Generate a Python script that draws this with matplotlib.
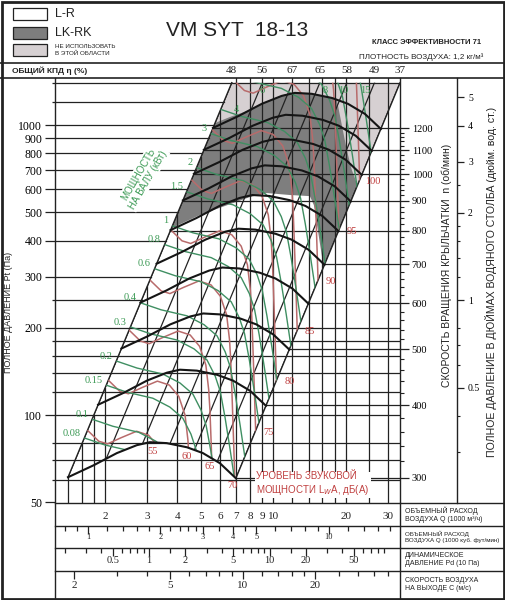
import numpy as np
import matplotlib
matplotlib.use("Agg")
import matplotlib.pyplot as plt
from matplotlib.patches import Polygon, Rectangle
from matplotlib.path import Path
from matplotlib.ticker import FixedLocator, NullFormatter, NullLocator, FuncFormatter

W, H = 505, 600
SERIF = "Liberation Serif"
SANS = "Liberation Sans"
INK = "#222222"
GREEN_LINE = "#3f8f62"
GREEN_TEXT = "#3c9a55"
RED_LINE = "#b86b6b"
RED_TEXT = "#c04040"
DARK = "#7e7e7e"
LIGHT = "#d6d0d2"

# ---- values (Q in 1000 m3/h, P in Pa) ----
Q_MIN, Q_MAX = 1.24, 33.57
P_MIN, P_MAX = 49.8, 1453.0

# 300 rpm fan curve, other speeds follow the fan laws
BASE_RPM = 300
base_q = [1.404, 1.795, 2.24, 2.71, 3.07, 3.61, 4.38, 5.10, 6.00, 6.99]
base_p = [61.1, 67.2, 74.0, 78.8, 80.7, 80.1, 77.5, 74.0, 68.3, 60.6]
rpm_curves = [300, 400, 500, 600, 700, 800, 900, 1000, 1100, 1200]
rpm_minor = list(range(300, 1201, 20))

# edges of the working area
left_edge = [(1.404, 61.1), (6.72, 1400.0)]
right_edge = [(6.99, 60.6), (33.6, 1400.0)]

# efficiency lines: Q where they meet the top, and their labels
eff_q_top = [6.72, 9.0, 12.0, 15.6, 20.2, 26.3, 33.6]
eff_labels = ["48", "56", "67", "65", "58", "49", "37"]

# shaft power lines, shape read for 0.15 kW
power_base_kw = 0.15
power_base_q = [2.023, 2.467, 3.16, 3.72, 4.21, 4.55, 4.78, 5.0, 5.25, 5.5, 5.8, 6.1]
power_base_p = [126.9, 120.0, 114.4, 106.6, 97.6, 86.0, 76.0, 62.0, 48.0, 37.0, 28.0, 21.0]
power_kw = [0.08, 0.1, 0.15, 0.2, 0.3, 0.4, 0.6, 0.8, 1, 1.5, 2, 3, 4, 6, 8, 10, 15]

# sound power lines, shape read for 60 dB(A)
sound_base_db = 60
sound_step_ratio = 1.22  # speed ratio per 5 dB
sound_base_q = [2.064, 2.30, 2.50, 2.85, 3.30, 3.70, 4.05, 4.30, 4.42, 4.47, 4.52, 4.57, 4.62, 4.67, 4.72]
sound_base_p = [132.0, 121.0, 118.5, 124.5, 131.0, 127.0, 116.0, 100.0, 82.0, 70.0, 55.0, 42.0, 32.0, 24.0, 18.0]
sound_db = [55, 60, 65, 70, 75, 80, 85, 90, 95, 100]

# shaded regions
dark_q = [3.78, 5.72, 6.60, 8.00, 9.67, 10.96, 12.28, 14.44, 17.52, 18.35, 19.25, 20.19,
          21.18, 22.36, 16.17, 15.30, 14.73, 14.18, 11.71, 9.40, 8.00, 6.79, 4.96]
dark_p = [441, 1016, 1066, 1127, 1220, 1270, 1291, 1282, 1240, 1225, 1000, 820,
          700, 621, 324, 435, 530, 569, 574, 583, 565, 538, 490]
light_q = [5.72, 6.72, 33.6, 22.36]
light_p = [1016, 1400, 1400, 621]

# grid
grid_q = [1.4, 1.6, 1.8, 2, 3, 4, 5, 6, 7, 8, 9, 10, 12, 14, 16, 18, 20, 25, 30]
grid_p = [60, 70, 80, 100, 120, 140, 160, 180, 200, 250, 300, 400, 500, 600, 700, 800,
          900, 1000, 1200, 1400]
p_labels = [50, 100, 200, 300, 400, 500, 600, 700, 800, 900, 1000]

# secondary scales
PA_PER_INCH = 249.1
inch_major = [0.5, 1, 2, 3, 4, 5]
inch_minor = [0.3, 0.4, 0.6, 0.7, 0.8, 1.2, 1.4, 1.6, 1.8, 2.5]
M3H_PER_CFM = 1.699
OUTLET_AREA = 0.2075  # m2
q_labels = [2, 3, 4, 5, 6, 7, 8, 9, 10, 20, 30]
cfm_major = [1, 2, 3, 4, 5, 10]
cfm_minor = [0.8, 0.9, 1.2, 1.4, 1.6, 1.8, 2.2, 2.4, 2.6, 2.8, 3.5, 4.5, 6, 7, 8, 9, 12, 14, 16, 18]
pd_major = [0.5, 1, 2, 5, 10, 20, 50]
pd_minor = [0.2, 0.3, 0.4, 0.6, 0.7, 0.8, 0.9, 1.5, 3, 4, 6, 7, 8, 9, 15, 30, 40, 60, 70, 80, 90]
c_major = [2, 5, 10, 20]
c_minor = [3, 4, 6, 7, 8, 9, 12, 14, 16, 18, 25, 30, 35, 40]

K_LEFT = left_edge[1][1] / left_edge[1][0] ** 2
K_RIGHT = right_edge[1][1] / right_edge[1][0] ** 2
P_TOP = left_edge[1][1]
level_300 = (base_p[0] + base_p[-1]) / 2


def q_to_c(q):
    return np.asarray(q) * 1000 / 3600 / OUTLET_AREA


def q_to_pd(q):
    return 0.6 * q_to_c(q) ** 2 / 10


fig = plt.figure(figsize=(W / 100, H / 100), dpi=100)
ax = fig.add_axes([55 / W, 1 - 503 / H, 345 / W, 425 / H])
ax.set_xscale("log")
ax.set_yscale("log")
ax.set_xlim(Q_MIN, Q_MAX)
ax.set_ylim(P_MIN, P_MAX)
for sp in ax.spines.values():
    sp.set_visible(False)
ax.xaxis.set_major_locator(NullLocator())
ax.xaxis.set_minor_locator(NullLocator())
ax.yaxis.set_major_locator(FixedLocator(p_labels))
ax.yaxis.set_minor_locator(FixedLocator([p for p in grid_p if p not in p_labels]))
ax.yaxis.set_major_formatter(FuncFormatter(lambda v, _: f"{v:g}"))
ax.yaxis.set_minor_formatter(NullFormatter())
ax.tick_params(axis="y", which="major", length=7.2, width=0.9, color=INK, pad=2,
               labelsize=8.5, labelfontfamily=SERIF)
ax.tick_params(axis="y", which="minor", length=2.2, width=0.9, color=INK)

area_q = [left_edge[0][0], left_edge[1][0], right_edge[1][0]] + base_q[::-1]
area_p = [left_edge[0][1], left_edge[1][1], right_edge[1][1]] + base_p[::-1]
area = Polygon(list(zip(area_q, area_p)), closed=True, transform=ax.transData)
area_log = Path(np.log10(np.column_stack([area_q, area_p])))


def clipped(artist):
    artist.set_clip_path(area)
    return artist


# shaded regions
clipped(ax.add_patch(Polygon(list(zip(light_q, light_p)), closed=True, fc=LIGHT, ec="none", zorder=1)))
clipped(ax.add_patch(Polygon(list(zip(dark_q, dark_p)), closed=True, fc=DARK, ec="none", zorder=1.1)))

# grid lines
for q in grid_q:
    top = min(P_MAX, K_LEFT * q ** 2)
    ax.plot([q, q], [P_MIN, top], color=INK, lw=0.9, zorder=2)
for p in grid_p:
    end = Q_MAX if (p <= 200 or p >= P_TOP) else np.sqrt(p / K_LEFT)
    ax.plot([Q_MIN, end], [p, p], color=INK, lw=0.9, zorder=2)
for n in rpm_curves:
    p = level_300 * (n / BASE_RPM) ** 2
    start = np.sqrt(p / (K_LEFT if n >= 800 else K_RIGHT))
    ax.plot([start, Q_MAX], [p, p], color=INK, lw=0.9, zorder=2)

# efficiency (system) lines
for qt in eff_q_top:
    k = P_TOP / qt ** 2
    qq = np.array([np.sqrt(40 / k), qt * 1.05])
    clipped(ax.plot(qq, k * qq ** 2, color=INK, lw=0.9, zorder=3)[0])
for edge in (left_edge, right_edge):
    ax.plot([e[0] for e in edge], [e[1] for e in edge], color=INK, lw=1.0, zorder=3)
for qt, lab in zip(eff_q_top, eff_labels):
    ax.text(qt, 1.0165, lab, transform=ax.get_xaxis_transform(), ha="center", va="center",
            fontsize=8, family=SERIF, color=INK)


def dense(q, p):
    lq, lp = np.log10(q), np.log10(p)
    t = np.linspace(0, len(q) - 1, 600)
    idx = np.arange(len(q))
    pts = np.column_stack([np.interp(t, idx, lq), np.interp(t, idx, lp)])
    ins = area_log.contains_points(pts)
    return pts, ins


# sound power lines
for db in sound_db:
    s = sound_step_ratio ** ((db - sound_base_db) / 5)
    q = np.array(sound_base_q) * s
    p = np.array(sound_base_p) * s ** 2
    clipped(ax.plot(q, p, color=RED_LINE, lw=1.1, zorder=3.2)[0])
    pts, ins = dense(q, p)
    i = np.nonzero(ins)[0][-1]
    qe, pe = 10 ** pts[i]
    on_right = abs(np.log10(pe / (K_RIGHT * qe ** 2))) < 0.03 and pe > 75
    off = (13, -2) if on_right else (-2, -9)
    ax.annotate(str(db), (qe, pe), xytext=off, textcoords="offset pixels", ha="center",
                va="center", fontsize=7.5, family=SERIF, color=RED_TEXT, zorder=5)

# shaft power lines
for kw in power_kw:
    s = (kw / power_base_kw) ** (1 / 3)
    q = np.array(power_base_q) * s
    p = np.array(power_base_p) * s ** 2
    clipped(ax.plot(q, p, color=GREEN_LINE, lw=1.0, zorder=3.4)[0])
    pts, ins = dense(q, p)
    i = np.nonzero(ins)[0][0]
    qs, ps = 10 ** pts[i]
    lab = f"{kw:g}"
    if ps > P_TOP * 0.98:
        ax.annotate(lab, (qs, ps), xytext=(5, -8), textcoords="offset pixels", ha="center",
                    va="center", fontsize=7.5, family=SERIF, color=GREEN_TEXT, zorder=5)
    elif ps > 1000:
        ax.annotate(lab, (qs, ps), xytext=(15, 0), textcoords="offset pixels", ha="center",
                    va="center", fontsize=7.5, family=SERIF, color=GREEN_TEXT, zorder=5)
    else:
        ax.annotate(lab, (qs, ps), xytext=(-4, 5), textcoords="offset pixels", ha="right",
                    va="center", fontsize=7.5, family=SERIF, color=GREEN_TEXT, zorder=5)

# fan curves
for n in rpm_curves:
    r = n / BASE_RPM
    ax.plot(np.array(base_q) * r, np.array(base_p) * r ** 2, color="#151515", lw=1.5, zorder=3.6)

# rpm scale
sec = ax.secondary_yaxis(
    "right",
    functions=(lambda p: BASE_RPM * np.sqrt(np.maximum(np.asarray(p, float), 1e-9) / level_300),
               lambda n: level_300 * (np.asarray(n, float) / BASE_RPM) ** 2))
sec.yaxis.set_major_locator(FixedLocator(rpm_curves))
sec.yaxis.set_minor_locator(FixedLocator([n for n in rpm_minor if n not in rpm_curves]))
sec.yaxis.set_major_formatter(FuncFormatter(lambda v, _: f"{v:g}"))
sec.yaxis.set_minor_formatter(NullFormatter())
sec.tick_params(which="major", length=6.5, width=0.9, color=INK, pad=2, labelsize=7.5,
                labelfontfamily=SERIF)
sec.tick_params(which="minor", length=3, width=0.8, color=INK)
for sp in sec.spines.values():
    sp.set_linewidth(1.0)
    sp.set_color(INK)

# inch water gauge scale
sec2 = ax.secondary_yaxis(
    (457 - 55) / 345,
    functions=(lambda p: np.asarray(p, float) / PA_PER_INCH,
               lambda i: np.asarray(i, float) * PA_PER_INCH))
sec2.yaxis.set_major_locator(FixedLocator(inch_major))
sec2.yaxis.set_minor_locator(FixedLocator(inch_minor))
sec2.yaxis.set_major_formatter(FuncFormatter(lambda v, _: f"{v:g}"))
sec2.yaxis.set_minor_formatter(NullFormatter())
sec2.tick_params(which="major", length=5, width=0.9, color=INK, pad=3, labelsize=7,
                 labelfontfamily=SERIF)
sec2.tick_params(which="minor", length=2.5, width=0.8, color=INK)
for sp in sec2.spines.values():
    sp.set_linewidth(1.0)
    sp.set_color(INK)


# bottom scales
def strip(y0, y1, lo, hi, major, minor):
    s = fig.add_axes([55 / W, 1 - y1 / H, 345 / W, (y1 - y0) / H])
    s.set_xscale("log")
    s.set_xlim(lo, hi)
    s.set_ylim(0, 1)
    s.set_frame_on(False)
    s.yaxis.set_visible(False)
    s.xaxis.set_major_locator(FixedLocator(major))
    s.xaxis.set_minor_locator(FixedLocator(minor))
    s.xaxis.set_major_formatter(NullFormatter())
    s.xaxis.set_minor_formatter(NullFormatter())
    s.tick_params(axis="x", which="both", top=True, bottom=False, direction="in",
                  labelbottom=False, width=0.9, color=INK)
    s.tick_params(axis="x", which="major", length=5.5)
    s.tick_params(axis="x", which="minor", length=3.5)
    return s


s1 = strip(503, 526, Q_MIN, Q_MAX, [], [])
for v in q_labels:
    s1.text(v, 0.42, f"{v:g}", transform=s1.get_xaxis_transform(), ha="center", va="center",
            fontsize=8, family=SERIF, color=INK)
s2 = strip(526, 548, Q_MIN / M3H_PER_CFM, Q_MAX / M3H_PER_CFM, cfm_major, cfm_minor)
for v in cfm_major:
    s2.text(v, 0.48, f"{v:g}", transform=s2.get_xaxis_transform(), ha="center", va="center",
            fontsize=6, family=SERIF, color=INK)
s3 = strip(548, 571, float(q_to_pd(Q_MIN)), float(q_to_pd(Q_MAX)), pd_major, pd_minor)
for v in pd_major:
    s3.text(v, 0.45, f"{v:g}", transform=s3.get_xaxis_transform(), ha="center", va="center",
            fontsize=7.5, family=SERIF, color=INK)
s4 = strip(571, 598, float(q_to_c(Q_MIN)), float(q_to_c(Q_MAX)), c_major, c_minor)
for v in c_major:
    s4.text(v, 0.47, f"{v:g}", transform=s4.get_xaxis_transform(), ha="center", va="center",
            fontsize=8, family=SERIF, color=INK)

# frame, header and captions (pixel coordinates)
ov = fig.add_axes([0, 0, 1, 1])
ov.set_xlim(0, W)
ov.set_ylim(H, 0)
ov.axis("off")
ov.add_patch(Rectangle((1.5, 1.5), W - 3, H - 3, fill=False, lw=2, ec=INK))
for y in (63, 78):
    ov.plot([0, W], [y, y], color=INK, lw=1.2)
ov.plot([55, 55], [78, 598], color=INK, lw=1.0)
ov.plot([400, 400], [503, 598], color=INK, lw=1.0)
for y in (503, 526, 548, 571):
    ov.plot([55, W], [y, y], color=INK, lw=1.0)

ov.add_patch(Rectangle((13, 8), 34, 12, fc="white", ec=INK, lw=0.9))
ov.add_patch(Rectangle((13, 27), 34, 12, fc=DARK, ec=INK, lw=0.9))
ov.add_patch(Rectangle((13, 44), 34, 12, fc=LIGHT, ec=INK, lw=0.9))
ov.text(55, 14, "L-R", fontsize=9, va="center", family=SANS, color=INK)
ov.text(55, 33, "LK-RK", fontsize=9, va="center", family=SANS, color=INK)
ov.text(55, 50, "НЕ ИСПОЛЬЗОВАТЬ\nВ ЭТОЙ ОБЛАСТИ", fontsize=4.5, va="center", family=SANS,
        color=INK, linespacing=1.2)
ov.text(237, 30, "VM SYT  18-13", fontsize=15, ha="center", va="center", family=SANS, color=INK)
ov.text(481, 42, "КЛАСС ЭФФЕКТИВНОСТИ 71", fontsize=5.5, weight="bold", ha="right",
        va="center", family=SANS, color=INK)
ov.text(483, 57, "ПЛОТНОСТЬ ВОЗДУХА: 1,2 кг/м³", fontsize=5.8, ha="right", va="center",
        family=SANS, color=INK)
ov.text(12, 71, "ОБЩИЙ КПД η (%)", fontsize=6, weight="bold", va="center", family=SANS,
        color=INK)

ov.text(9, 312, "ПОЛНОЕ ДАВЛЕНИЕ Pt (Па)", rotation=90, fontsize=6.5, ha="center",
        va="center", family=SANS, color=INK)
ov.text(447, 265, "СКОРОСТЬ ВРАЩЕНИЯ КРЫЛЬЧАТКИ  n (об/мин)", rotation=90, fontsize=7.5,
        ha="center", va="center", family=SANS, color=INK)
ov.text(491, 282, "ПОЛНОЕ ДАВЛЕНИЕ В ДЮЙМАХ ВОДЯНОГО СТОЛБА (дюйм. вод. ст.)", rotation=90,
        fontsize=7.6, ha="center", va="center", family=SANS, color=INK)

ov.text(143, 177, "МОЩНОСТЬ\nНА ВАЛУ (кВт)", rotation=60, fontsize=7, ha="center",
        va="center", family=SANS, color=GREEN_TEXT, linespacing=1.1,
        bbox=dict(fc="white", ec="none", pad=1.0))
ov.text(256, 484, "УРОВЕНЬ ЗВУКОВОЙ\nМОЩНОСТИ L$_{W}$A, дБ(А)", fontsize=7, ha="left",
        va="center", family=SANS, color=RED_TEXT, linespacing=1.15,
        bbox=dict(fc="white", ec="none", pad=1.0))

cells = [
    (514.5, "ОБЪЕМНЫЙ РАСХОД\nВОЗДУХА Q (1000 м³/ч)", 5),
    (537, "ОБЪЕМНЫЙ РАСХОД\nВОЗДУХА Q (1000 куб. фут/мин)", 4.5),
    (559.5, "ДИНАМИЧЕСКОЕ\nДАВЛЕНИЕ Pd (10 Па)", 5),
    (584.5, "СКОРОСТЬ ВОЗДУХА\nНА ВЫХОДЕ С (м/с)", 5),
]
for y, txt, fs in cells:
    ov.text(405, y, txt, fontsize=fs, va="center", family=SANS, color=INK, linespacing=1.25)

fig.savefig("out.png", dpi=100)
